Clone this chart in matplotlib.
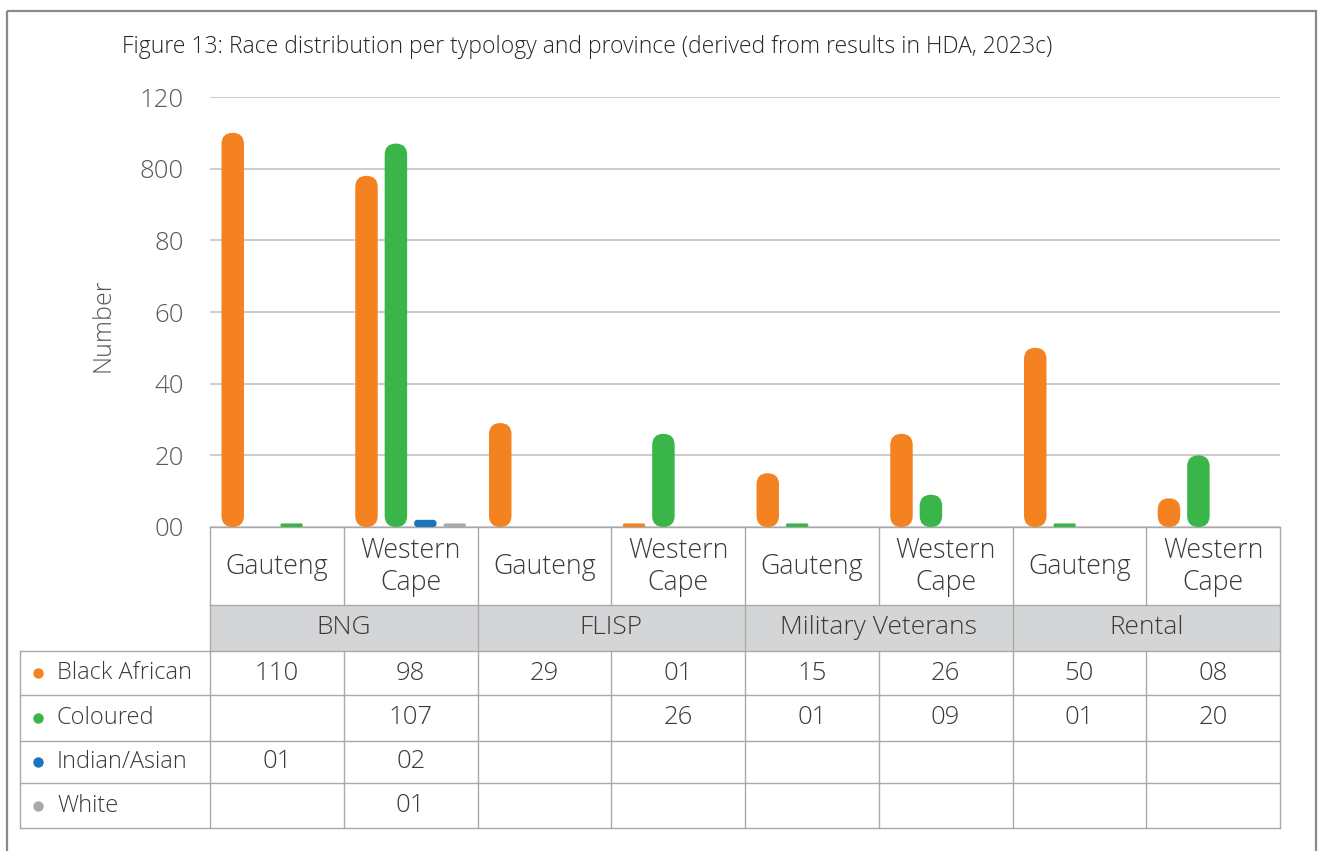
import matplotlib
matplotlib.use("Agg")
import matplotlib.pyplot as plt
from matplotlib.patches import FancyBboxPatch, Rectangle

plt.rcParams['font.family'] = ['Open Sans', 'DejaVu Sans']

# ---------------- data ----------------
title = "Figure 13: Race distribution per typology and province (derived from results in HDA, 2023c)"
typologies = ['BNG', 'FLISP', 'Military Veterans', 'Rental']
provinces = ['Gauteng', 'Western\nCape']
series_names = ['Black African', 'Coloured', 'Indian/Asian', 'White']
black_african = [110, 98, 29, 1, 15, 26, 50, 8]
coloured = [None, 107, None, 26, 1, 9, 1, 20]
indian_asian = [1, 2, None, None, None, None, None, None]
white = [None, 1, None, None, None, None, None, None]
y_ticks = [0, 20, 40, 60, 80, 100, 120]
y_tick_labels = ['00', '20', '40', '60', '80', '800', '120']
y_label = 'Number'

series_values = [black_african, coloured, indian_asian, white]
series_colors = ['#F58220', '#39B54A', '#1C75BC', '#A7A9AC']
# in the source, the Gauteng/BNG Indian/Asian mark is drawn in green
color_override = {(2, 0): '#39B54A'}

# ---------------- layout ----------------
W, H = 1320, 851
fig = plt.figure(figsize=(W / 100, H / 100), dpi=100)
bg = fig.add_axes([0, 0, 1, 1], zorder=0)
bg.set_xlim(0, W)
bg.set_ylim(H, 0)
bg.axis('off')

ax_l, ax_r, ax_t, ax_b = 210, 1280, 97, 527
ax = fig.add_axes([ax_l / W, (H - ax_b) / H, (ax_r - ax_l) / W, (ax_b - ax_t) / H], zorder=2)
ax.patch.set_alpha(0)

n_cat = len(black_african)
ax.set_xlim(0, n_cat)
ax.set_ylim(0, 120)
for s in ax.spines.values():
    s.set_visible(False)
ax.set_xticks([])
ax.set_yticks(y_ticks)
ax.set_yticklabels(y_tick_labels, fontsize=18.5, color='#595959', fontweight='light')
ax.tick_params(axis='y', length=0, pad=19)
ax.grid(axis='y', color='#c3c3c3', linewidth=1.2)
ax.set_axisbelow(True)

px_x = (ax_r - ax_l) / n_cat
px_y = (ax_b - ax_t) / 120
aspect = px_x / px_y
bar_w = 0.168
slot = 0.22

for k, vals in enumerate(series_values):
    for i, v in enumerate(vals):
        if not v:
            continue
        x0 = i + 0.5 + (k - 1.5) * slot - bar_w / 2
        r = min(bar_w / 2, v / aspect / 2)
        col = color_override.get((k, i), series_colors[k])
        p = FancyBboxPatch((x0, 0), bar_w, v,
                           boxstyle=f"round,pad=0,rounding_size={r}",
                           mutation_aspect=aspect, facecolor=col,
                           edgecolor='none', zorder=3)
        ax.add_patch(p)

# ---------------- frame and title ----------------
bg.add_patch(Rectangle((7, 11), 1309, 900, facecolor='none', edgecolor='#8a8a8a', linewidth=1.6))
bg.text(122, 47, title, fontsize=16.5, color='#262626', va='center', ha='left',
        fontweight='light')
bg.text(103, 325, y_label, rotation=90, fontsize=18, color='#595959', va='center', ha='center',
        fontweight='light')

# ---------------- data table ----------------
line_c = '#a9a9a9'
lw = 1.0
cols = [ax_l + i * px_x for i in range(n_cat + 1)]
prov_top, prov_bot = 527, 605
typ_bot = 651
row_edges = [651, 695, 741, 783, 828]
leg_l = 20
text_c = '#3a3a3a'

# province row
bg.plot([ax_l, ax_r], [prov_top, prov_top], color=line_c, lw=lw)
for c in cols:
    bg.plot([c, c], [prov_top, prov_bot], color=line_c, lw=lw)
for i in range(n_cat):
    bg.text((cols[i] + cols[i + 1]) / 2, 567, provinces[i % 2], ha='center', va='center',
            fontsize=19.3, color=text_c, linespacing=1.2, fontweight='light')

# typology row
bg.add_patch(Rectangle((ax_l, prov_bot), ax_r - ax_l, typ_bot - prov_bot,
                       facecolor='#d4d5d7', edgecolor='none'))
bg.plot([ax_l, ax_r], [prov_bot, prov_bot], color=line_c, lw=lw)
for j in range(len(typologies) + 1):
    c = cols[2 * j]
    bg.plot([c, c], [prov_bot, typ_bot], color=line_c, lw=lw)
for j, t in enumerate(typologies):
    bg.text((cols[2 * j] + cols[2 * j + 2]) / 2, 628, t, ha='center', va='center',
            fontsize=19, color=text_c, fontweight='light')

# value rows
for y in row_edges:
    bg.plot([leg_l, ax_r], [y, y], color=line_c, lw=lw)
for c in [leg_l] + cols:
    bg.plot([c, c], [row_edges[0], row_edges[-1]], color=line_c, lw=lw)
for k, (name, vals) in enumerate(zip(series_names, series_values)):
    yc = (row_edges[k] + row_edges[k + 1]) / 2
    bg.plot(38, yc, 'o', color=series_colors[k], markersize=7.5, markeredgewidth=0)
    bg.text(57, yc, name, ha='left', va='center', fontsize=17, color=text_c, fontweight='light')
    for i, v in enumerate(vals):
        if v is None:
            continue
        bg.text((cols[i] + cols[i + 1]) / 2, yc, f"{v:02d}", ha='center', va='center',
                fontsize=18.5, color=text_c, fontweight='light')

fig.savefig('out.png', dpi=100)
